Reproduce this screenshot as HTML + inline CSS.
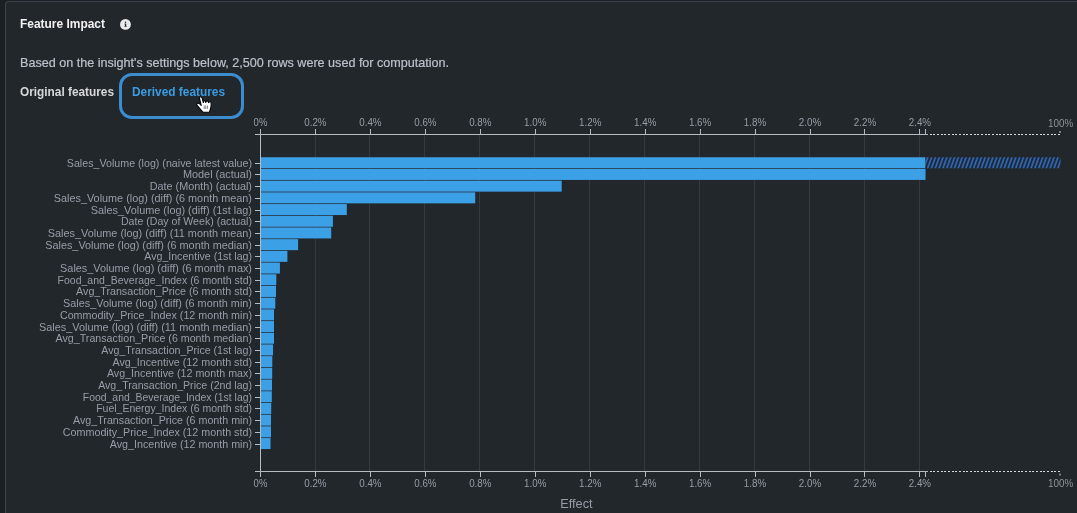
<!DOCTYPE html>
<html lang="en">
<head>
<meta charset="utf-8">
<title>Feature Impact</title>
<style>
html,body{margin:0;padding:0;}
body{width:1077px;height:513px;overflow:hidden;background:#1b1f23;font-family:"Liberation Sans",Arial,sans-serif;position:relative;color:#e6e7e8;}
.panel{position:absolute;left:5px;top:1px;width:1090px;height:530px;box-sizing:border-box;background:#22272b;border:1px solid #3c414b;border-radius:3px;}
.inner{position:absolute;left:-6px;top:-2px;width:1077px;height:513px;}
.chart{position:absolute;left:0;top:0;font-family:"Liberation Sans",Arial,sans-serif;}
.t{position:absolute;white-space:nowrap;transform-origin:0 0;line-height:1;}
h1{margin:0;font-size:13px;font-weight:bold;color:#f2f3f3;left:20px;top:17px;transform:scaleX(0.919);}
.info{position:absolute;left:120px;top:19px;width:11px;height:11px;}
.desc{margin:0;font-size:13px;color:#bcc1cb;-webkit-text-stroke:0.2px #bcc1cb;left:20px;top:56px;transform:scaleX(0.968);}
.tabs{position:absolute;left:0;top:0;margin:0;padding:0;list-style:none;}
.tab{font-size:13px;font-weight:bold;color:#d6d8da;}
.tab.orig{left:20px;top:85px;transform:scaleX(0.91);}
.tab.der{left:132.2px;top:85px;color:#3d9be2;transform:scaleX(0.913);}
.focus{position:absolute;left:119px;top:73px;width:125px;height:46px;box-sizing:border-box;border:3px solid #3b8dd0;border-radius:13px;}
.cursor{position:absolute;left:194px;top:94px;width:20px;height:20px;}
</style>
</head>
<body>
<section class="panel">
<div class="inner">
<h1 class="t" id="h1">Feature Impact</h1>
<svg class="info" viewBox="0 0 11 11"><circle cx="5.45" cy="5.4" r="5.4" fill="#e9eaeb"/><g fill="#22272b"><rect x="4.85" y="2.6" width="1.3" height="1.25"/><rect x="4.95" y="4.6" width="1.25" height="2.9"/><rect x="4.45" y="4.6" width="0.8" height="0.75"/><rect x="4.4" y="6.85" width="2.3" height="0.75"/></g></svg>
<p class="t desc" id="desc">Based on the insight's settings below, 2,500 rows were used for computation.</p>
<div class="focus"></div>
<ul class="tabs">
<li class="t tab orig" id="orig">Original features</li>
<li class="t tab der" id="der">Derived features</li>
</ul>
<svg class="chart" width="1077" height="513" viewBox="0 0 1077 513">
<defs><pattern id="hatch" patternUnits="userSpaceOnUse" width="3.83" height="14" patternTransform="translate(925.5,168) skewX(-20)"><rect x="0" y="0" width="3.83" height="14" fill="#1c1f22"/><rect x="1.35" y="0" width="1.8" height="14" fill="#3171c9"/></pattern></defs>
<g class="grid" stroke="#353a3f" stroke-width="1" shape-rendering="crispEdges">
<line x1="315.5" x2="315.5" y1="134.5" y2="471.5"/>
<line x1="369.5" x2="369.5" y1="134.5" y2="471.5"/>
<line x1="424.5" x2="424.5" y1="134.5" y2="471.5"/>
<line x1="479.5" x2="479.5" y1="134.5" y2="471.5"/>
<line x1="534.5" x2="534.5" y1="134.5" y2="471.5"/>
<line x1="589.5" x2="589.5" y1="134.5" y2="471.5"/>
<line x1="644.5" x2="644.5" y1="134.5" y2="471.5"/>
<line x1="699.5" x2="699.5" y1="134.5" y2="471.5"/>
<line x1="754.5" x2="754.5" y1="134.5" y2="471.5"/>
<line x1="809.5" x2="809.5" y1="134.5" y2="471.5"/>
<line x1="864.5" x2="864.5" y1="134.5" y2="471.5"/>
<line x1="919.5" x2="919.5" y1="134.5" y2="471.5"/>
</g>
<g class="bars" fill="#3ca0e7">
<rect x="261.0" y="157.25" width="664.5" height="11.0"/>
<rect x="261.0" y="168.95" width="664.5" height="11.0"/>
<rect x="261.0" y="180.65" width="300.7" height="11.0"/>
<rect x="261.0" y="192.35" width="214.2" height="11.0"/>
<rect x="261.0" y="204.05" width="85.8" height="11.0"/>
<rect x="261.0" y="215.75" width="71.9" height="11.0"/>
<rect x="261.0" y="227.45" width="70.2" height="11.0"/>
<rect x="261.0" y="239.15" width="37.1" height="11.0"/>
<rect x="261.0" y="250.85" width="26.4" height="11.0"/>
<rect x="261.0" y="262.55" width="18.9" height="11.0"/>
<rect x="261.0" y="274.25" width="15.3" height="11.0"/>
<rect x="261.0" y="285.95" width="15.0" height="11.0"/>
<rect x="261.0" y="297.65" width="14.3" height="11.0"/>
<rect x="261.0" y="309.35" width="13.0" height="11.0"/>
<rect x="261.0" y="321.05" width="13.0" height="11.0"/>
<rect x="261.0" y="332.75" width="13.0" height="11.0"/>
<rect x="261.0" y="344.45" width="12.0" height="11.0"/>
<rect x="261.0" y="356.15" width="11.3" height="11.0"/>
<rect x="261.0" y="367.85" width="11.2" height="11.0"/>
<rect x="261.0" y="379.55" width="11.0" height="11.0"/>
<rect x="261.0" y="391.25" width="10.8" height="11.0"/>
<rect x="261.0" y="402.95" width="10.2" height="11.0"/>
<rect x="261.0" y="414.65" width="10.0" height="11.0"/>
<rect x="261.0" y="426.35" width="10.0" height="11.0"/>
<rect x="261.0" y="438.05" width="9.5" height="11.0"/>
</g>
<rect class="overflow" x="925.5" y="157.25" width="135.0" height="11" fill="url(#hatch)"/>
<g class="axes" fill="none" stroke="#b7bbc3" stroke-width="1">
<path d="M255.0,134.5H260.5V471.5H255.0"/>
<path d="M260.5,129.0V134.5H925.5V129.0"/>
<path d="M260.5,477.0V471.5H925.5V477.0"/>
<path d="M928.0,134.5H1060.5" stroke="#d4d6d9" stroke-dasharray="2,1.667" stroke-dashoffset="-1.5" shape-rendering="crispEdges"/>
<path d="M928.0,471.5H1060.5" stroke="#d4d6d9" stroke-dasharray="2,1.667" stroke-dashoffset="-1.5" shape-rendering="crispEdges"/>
<path d="M925.5,134.5h2.5M925.5,471.5h2.5"/>
<path d="M1060.0,131.0v1.8M1060.0,473.7v1.8" stroke="#e0e2e4"/>
<path d="M315.5,134.5v-5.5M315.5,471.5v5.5"/>
<path d="M370.5,134.5v-5.5M370.5,471.5v5.5"/>
<path d="M425.5,134.5v-5.5M425.5,471.5v5.5"/>
<path d="M480.5,134.5v-5.5M480.5,471.5v5.5"/>
<path d="M535.5,134.5v-5.5M535.5,471.5v5.5"/>
<path d="M590.5,134.5v-5.5M590.5,471.5v5.5"/>
<path d="M645.5,134.5v-5.5M645.5,471.5v5.5"/>
<path d="M700.5,134.5v-5.5M700.5,471.5v5.5"/>
<path d="M755.5,134.5v-5.5M755.5,471.5v5.5"/>
<path d="M810.5,134.5v-5.5M810.5,471.5v5.5"/>
<path d="M864.5,134.5v-5.5M864.5,471.5v5.5"/>
<path d="M919.5,134.5v-5.5M919.5,471.5v5.5"/>
<path d="M255.0,163.5H260.5"/>
<path d="M255.0,174.5H260.5"/>
<path d="M255.0,186.5H260.5"/>
<path d="M255.0,198.5H260.5"/>
<path d="M255.0,210.5H260.5"/>
<path d="M255.0,221.5H260.5"/>
<path d="M255.0,233.5H260.5"/>
<path d="M255.0,245.5H260.5"/>
<path d="M255.0,256.5H260.5"/>
<path d="M255.0,268.5H260.5"/>
<path d="M255.0,280.5H260.5"/>
<path d="M255.0,291.5H260.5"/>
<path d="M255.0,303.5H260.5"/>
<path d="M255.0,315.5H260.5"/>
<path d="M255.0,327.5H260.5"/>
<path d="M255.0,338.5H260.5"/>
<path d="M255.0,350.5H260.5"/>
<path d="M255.0,362.5H260.5"/>
<path d="M255.0,373.5H260.5"/>
<path d="M255.0,385.5H260.5"/>
<path d="M255.0,397.5H260.5"/>
<path d="M255.0,408.5H260.5"/>
<path d="M255.0,420.5H260.5"/>
<path d="M255.0,432.5H260.5"/>
<path d="M255.0,444.5H260.5"/>
</g>
<g class="ticklabels" fill="#979da8" font-size="11" text-anchor="middle">
<text x="260.5" y="125.7" textLength="13.8" lengthAdjust="spacingAndGlyphs">0%</text>
<text x="260.5" y="487.3" textLength="13.8" lengthAdjust="spacingAndGlyphs">0%</text>
<text x="315.4" y="125.7" textLength="22.3" lengthAdjust="spacingAndGlyphs">0.2%</text>
<text x="315.4" y="487.3" textLength="22.3" lengthAdjust="spacingAndGlyphs">0.2%</text>
<text x="370.4" y="125.7" textLength="22.3" lengthAdjust="spacingAndGlyphs">0.4%</text>
<text x="370.4" y="487.3" textLength="22.3" lengthAdjust="spacingAndGlyphs">0.4%</text>
<text x="425.4" y="125.7" textLength="22.3" lengthAdjust="spacingAndGlyphs">0.6%</text>
<text x="425.4" y="487.3" textLength="22.3" lengthAdjust="spacingAndGlyphs">0.6%</text>
<text x="480.3" y="125.7" textLength="22.3" lengthAdjust="spacingAndGlyphs">0.8%</text>
<text x="480.3" y="487.3" textLength="22.3" lengthAdjust="spacingAndGlyphs">0.8%</text>
<text x="535.2" y="125.7" textLength="22.3" lengthAdjust="spacingAndGlyphs">1.0%</text>
<text x="535.2" y="487.3" textLength="22.3" lengthAdjust="spacingAndGlyphs">1.0%</text>
<text x="590.2" y="125.7" textLength="22.3" lengthAdjust="spacingAndGlyphs">1.2%</text>
<text x="590.2" y="487.3" textLength="22.3" lengthAdjust="spacingAndGlyphs">1.2%</text>
<text x="645.2" y="125.7" textLength="22.3" lengthAdjust="spacingAndGlyphs">1.4%</text>
<text x="645.2" y="487.3" textLength="22.3" lengthAdjust="spacingAndGlyphs">1.4%</text>
<text x="700.1" y="125.7" textLength="22.3" lengthAdjust="spacingAndGlyphs">1.6%</text>
<text x="700.1" y="487.3" textLength="22.3" lengthAdjust="spacingAndGlyphs">1.6%</text>
<text x="755.0" y="125.7" textLength="22.3" lengthAdjust="spacingAndGlyphs">1.8%</text>
<text x="755.0" y="487.3" textLength="22.3" lengthAdjust="spacingAndGlyphs">1.8%</text>
<text x="810.0" y="125.7" textLength="22.3" lengthAdjust="spacingAndGlyphs">2.0%</text>
<text x="810.0" y="487.3" textLength="22.3" lengthAdjust="spacingAndGlyphs">2.0%</text>
<text x="865.0" y="125.7" textLength="22.3" lengthAdjust="spacingAndGlyphs">2.2%</text>
<text x="865.0" y="487.3" textLength="22.3" lengthAdjust="spacingAndGlyphs">2.2%</text>
<text x="919.9" y="125.7" textLength="22.3" lengthAdjust="spacingAndGlyphs">2.4%</text>
<text x="919.9" y="487.3" textLength="22.3" lengthAdjust="spacingAndGlyphs">2.4%</text>
<text x="1060.6" y="127" textLength="25.2" lengthAdjust="spacingAndGlyphs" fill="#8f9398">100%</text>
<text x="1060.6" y="487" textLength="25.2" lengthAdjust="spacingAndGlyphs" fill="#8f9398">100%</text>
</g>
<g class="ylabels" fill="#979da8" font-size="11" text-anchor="end">
<text x="252.0" y="167" textLength="185.2" lengthAdjust="spacingAndGlyphs">Sales_Volume (log) (naive latest value)</text>
<text x="252.0" y="178" textLength="69.1" lengthAdjust="spacingAndGlyphs">Model (actual)</text>
<text x="252.0" y="190" textLength="102.3" lengthAdjust="spacingAndGlyphs">Date (Month) (actual)</text>
<text x="252.0" y="202" textLength="198.2" lengthAdjust="spacingAndGlyphs">Sales_Volume (log) (diff) (6 month mean)</text>
<text x="252.0" y="214" textLength="161.2" lengthAdjust="spacingAndGlyphs">Sales_Volume (log) (diff) (1st lag)</text>
<text x="252.0" y="225" textLength="131.1" lengthAdjust="spacingAndGlyphs">Date (Day of Week) (actual)</text>
<text x="252.0" y="237" textLength="204.2" lengthAdjust="spacingAndGlyphs">Sales_Volume (log) (diff) (11 month mean)</text>
<text x="252.0" y="249" textLength="206.8" lengthAdjust="spacingAndGlyphs">Sales_Volume (log) (diff) (6 month median)</text>
<text x="252.0" y="260" textLength="107.7" lengthAdjust="spacingAndGlyphs">Avg_Incentive (1st lag)</text>
<text x="252.0" y="272" textLength="191.9" lengthAdjust="spacingAndGlyphs">Sales_Volume (log) (diff) (6 month max)</text>
<text x="252.0" y="284" textLength="194.4" lengthAdjust="spacingAndGlyphs">Food_and_Beverage_Index (6 month std)</text>
<text x="252.0" y="295" textLength="175.9" lengthAdjust="spacingAndGlyphs">Avg_Transaction_Price (6 month std)</text>
<text x="252.0" y="307" textLength="189.0" lengthAdjust="spacingAndGlyphs">Sales_Volume (log) (diff) (6 month min)</text>
<text x="252.0" y="319" textLength="192.1" lengthAdjust="spacingAndGlyphs">Commodity_Price_Index (12 month min)</text>
<text x="252.0" y="331" textLength="213.1" lengthAdjust="spacingAndGlyphs">Sales_Volume (log) (diff) (11 month median)</text>
<text x="252.0" y="342" textLength="196.4" lengthAdjust="spacingAndGlyphs">Avg_Transaction_Price (6 month median)</text>
<text x="252.0" y="354" textLength="150.7" lengthAdjust="spacingAndGlyphs">Avg_Transaction_Price (1st lag)</text>
<text x="252.0" y="366" textLength="139.5" lengthAdjust="spacingAndGlyphs">Avg_Incentive (12 month std)</text>
<text x="252.0" y="377" textLength="145.1" lengthAdjust="spacingAndGlyphs">Avg_Incentive (12 month max)</text>
<text x="252.0" y="389" textLength="153.8" lengthAdjust="spacingAndGlyphs">Avg_Transaction_Price (2nd lag)</text>
<text x="252.0" y="401" textLength="169.2" lengthAdjust="spacingAndGlyphs">Food_and_Beverage_Index (1st lag)</text>
<text x="252.0" y="412" textLength="155.8" lengthAdjust="spacingAndGlyphs">Fuel_Energy_Index (6 month std)</text>
<text x="252.0" y="424" textLength="179.0" lengthAdjust="spacingAndGlyphs">Avg_Transaction_Price (6 month min)</text>
<text x="252.0" y="436" textLength="189.2" lengthAdjust="spacingAndGlyphs">Commodity_Price_Index (12 month std)</text>
<text x="252.0" y="448" textLength="142.2" lengthAdjust="spacingAndGlyphs">Avg_Incentive (12 month min)</text>
</g>
<text class="xtitle" x="576.4" y="507.7" fill="#979da8" font-size="12" text-anchor="middle" textLength="32.4" lengthAdjust="spacingAndGlyphs">Effect</text>
</svg>
<svg class="cursor" viewBox="194 94 20 20"><path d="M200.100,97.100C200.800,96.500 201.900,96.900 202.100,97.900L203.300,102.500L203.700,101.100C204.100,100.500 205.100,100.600 205.400,101.300L205.700,102.500L206.400,101.200C206.900,100.700 207.900,100.800 208.200,101.500L208.500,102.700L209.300,101.900C209.900,101.500 210.900,101.800 211.100,102.700C211.400,105 211.100,107.500 210.300,109.500L209.400,112.300L203.100,112.300C201.300,110.500 199.000,107.600 197.100,105.300C196.300,104.300 196.900,103.000 198.100,103.100C199.200,103.200 200.400,104.300 201.200,105.400L199.500,98.500C199.400,98.000 199.600,97.400 200.100,97.100Z" fill="#fff" stroke="#050607" stroke-width="1.1" stroke-linejoin="round"/><path d="M204.200,105.500v3.500M205.800,105.500v3.500M207.400,105.500v3.500" stroke="#777" stroke-width="0.9" fill="none"/></svg>
</div>
</section>
</body>
</html>
